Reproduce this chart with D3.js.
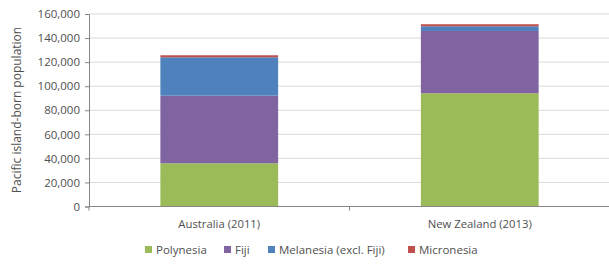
<!DOCTYPE html>
<html><head><meta charset="utf-8">
<script src="https://cdn.jsdelivr.net/npm/d3@7/dist/d3.min.js"></script>
<style>body{margin:0;background:#fff}svg{display:block;font-family:"Open Sans","Liberation Sans",sans-serif}</style>
</head><body><svg id="c" width="609" height="265"></svg>
<script>
const categories = ["Australia (2011)", "New Zealand (2013)"];
const seriesNames = ["Polynesia", "Fiji", "Melanesia (excl. Fiji)", "Micronesia"];
const polynesia = [35900, 94100];
const fiji = [56200, 51800];
const melanesia = [31900, 3900];
const micronesia = [1700, 1700];
const yTicks = [0, 20000, 40000, 60000, 80000, 100000, 120000, 140000, 160000];
const colors = ["#9BBB59", "#8064A2", "#4F81BD", "#C0504D"];

const svg = d3.select("#c");
const m = {l: 89, r: 610, t: 14, b: 206.5};
const x = d3.scaleBand().domain(categories).range([m.l, m.r]).paddingInner(0.548).paddingOuter(0.274);
const y = d3.scaleLinear().domain([0, 160000]).range([m.b, m.t]);

// gridlines
svg.append("g").selectAll("line").data(yTicks.slice(1)).join("line")
  .attr("x1", m.l).attr("x2", m.r).attr("y1", d => y(d)).attr("y2", d => y(d))
  .attr("stroke", "#d9d9d9").attr("stroke-width", 1);

const rows = categories.map((c, i) => ({cat: c, s0: polynesia[i], s1: fiji[i], s2: melanesia[i], s3: micronesia[i]}));
const stack = d3.stack().keys(["s0", "s1", "s2", "s3"])(rows);
svg.append("g").selectAll("g").data(stack).join("g").attr("fill", (d, i) => colors[i])
  .selectAll("rect").data(d => d).join("rect")
  .attr("x", d => x(d.data.cat)).attr("width", x.bandwidth())
  .attr("y", d => y(d[1])).attr("height", d => y(d[0]) - y(d[1]));

// y axis
const ya = svg.append("g").attr("transform", `translate(${m.l},0)`)
  .call(d3.axisLeft(y).tickValues(yTicks).tickFormat(d3.format(",")).tickSize(4).tickPadding(5));
ya.select(".domain").attr("stroke", "#868686");
ya.selectAll(".tick line").attr("stroke", "#868686");
ya.selectAll("text").attr("fill", "#505050").attr("font-size", 11.5).attr("font-family", "Open Sans");

// x axis
const xa = svg.append("g").attr("transform", `translate(0,${m.b})`);
xa.append("line").attr("x1", m.l).attr("x2", m.r).attr("stroke", "#868686");
xa.selectAll(".tk").data([m.l, m.l + (m.r - m.l) / 2]).join("line")
  .attr("x1", d => d).attr("x2", d => d).attr("y1", 0).attr("y2", 4).attr("stroke", "#868686");
xa.selectAll("text").data(categories).join("text")
  .attr("x", d => x(d) + x.bandwidth() / 2).attr("y", 21.5)
  .attr("text-anchor", "middle").attr("fill", "#505050").attr("font-size", 11.3).text(d => d);

// y title
svg.append("text").attr("transform", "translate(21,110) rotate(-90)")
  .attr("text-anchor", "middle").attr("fill", "#505050").attr("font-size", 12).text("Pacific island-born population");

// legend
const legX = [145, 224, 268, 408];
const lg = svg.append("g").selectAll("g").data(seriesNames).join("g")
  .attr("transform", (d, i) => `translate(${legX[i]},252)`);
lg.append("rect").attr("x", 0).attr("y", -6).attr("width", 7).attr("height", 7).attr("fill", (d, i) => colors[i]);
lg.append("text").attr("x", 11).attr("y", 2).attr("fill", "#505050").attr("font-size", 11.5).text(d => d);
</script></body></html>
